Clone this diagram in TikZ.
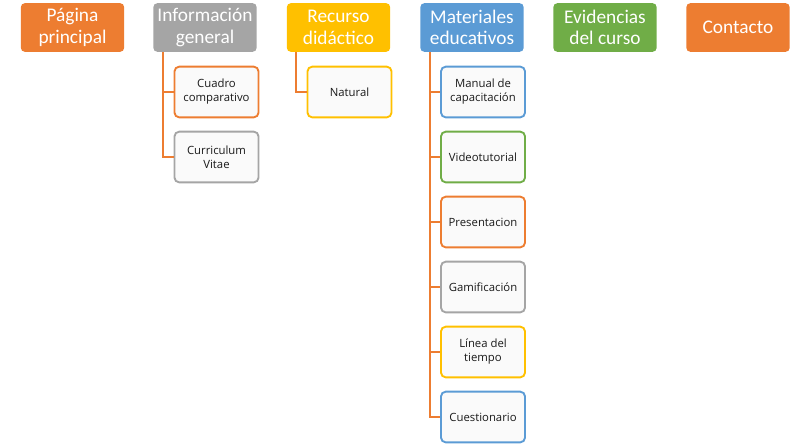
\documentclass[tikz,border=0pt]{standalone}
\usepackage{fontspec}
\setmainfont{Carlito}
\newfontfamily\subfont{Open Sans}
\usetikzlibrary{positioning, calc}
\usepackage{xcolor}
\definecolor{mporange}{HTML}{ED7D31}
\definecolor{mpgray}{HTML}{A5A5A5}
\definecolor{mpgold}{HTML}{FFC000}
\definecolor{mpblue}{HTML}{5B9BD5}
\definecolor{mpgreen}{HTML}{70AD47}
\definecolor{mpfill}{HTML}{FAFAFA}
\definecolor{mptext}{HTML}{1A1A1A}

\tikzset{
  menu/.style={fill=#1, draw=none, rounded corners=3pt, text=white,
               minimum width=77.5pt, minimum height=36.5pt, align=center,
               inner sep=1pt, font=\fontsize{14.5}{16}\selectfont},
  sub/.style={draw=#1, line width=1.4pt, fill=mpfill, rounded corners=3.5pt,
              text=mptext, minimum width=63pt, minimum height=38pt,
              align=center, inner sep=1pt, font=\subfont\fontsize{8.5}{10.5}\selectfont},
  link/.style={draw=mporange, line width=1.5pt}
}

\begin{document}
\begin{tikzpicture}[x=0.75pt, y=-0.75pt]
    \useasboundingbox (0,0) rectangle (811,444);

    % barra de menu
    \node[menu=mporange] (inicio) at (72.5,27.5) {Página\\principal};
    \node[menu=mpgray]   (info)   at (205,27.5)  {Información\\general};
    \node[menu=mpgold]   (recur)  at (338.5,27.5) {Recurso\\didáctico};
    \node[menu=mpblue]   (mater)  at (472,27.5)  {Materiales\\educativos};
    \node[menu=mpgreen]  (evid)   at (605,27.5)  {Evidencias\\del curso};
    \node[menu=mporange] (cont)   at (738,27.5)  {Contacto};

    % submenus
    \node[sub=mporange] (cuadro) at (216.5,92)  {Cuadro\\comparativo};
    \node[sub=mpgray]   (cv)     at (216.5,157) {Curriculum\\Vitae};
    \node[sub=mpgold]   (natur)  at (349.5,92)  {Natural};

    \node[sub=mpblue]   (manual) at (483,92)  {Manual de\\capacitación};
    \node[sub=mpgreen]  (video)  at (483,157) {Videotutorial};
    \node[sub=mporange] (pres)   at (483,222) {Presentacion};
    \node[sub=mpgray]   (gami)   at (483,287) {Gamificación};
    \node[sub=mpgold]   (linea)  at (483,352) {Línea del\\tiempo};
    \node[sub=mpblue]   (cuest)  at (483,417) {Cuestionario};

    % conectores
    \draw[link] ([xshift=7.5pt]info.south west) |- (cuadro.west);
    \draw[link] ([xshift=7.5pt]info.south west) |- (cv.west);
    \draw[link] ([xshift=7pt]recur.south west) |- (natur.west);
    \foreach \s in {manual, video, pres, gami, linea, cuest}
      \draw[link] ([xshift=7.5pt]mater.south west) |- (\s.west);
\end{tikzpicture}
\end{document}
